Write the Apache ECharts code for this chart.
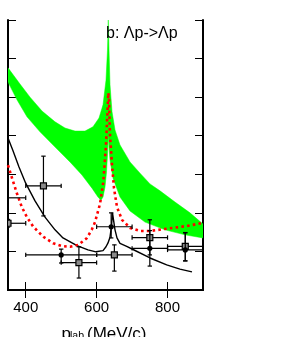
<!DOCTYPE html>
<html><head><meta charset="utf-8">
<script src="https://cdn.jsdelivr.net/npm/echarts@6/dist/echarts.min.js"></script>
<style>html,body{margin:0;padding:0;background:#fff}#c{width:292px;height:337px}</style>
</head><body><div id="c"></div>
<script>
// x: p_lab (MeV/c), y: cross section (arbitrary units, axis 0..70)
const xTickValues = [400, 600, 800];
const yTickValues = [0, 10, 20, 30, 40, 50, 60, 70];

// green band, upper and lower edges [p, y]
const bandUpper = [
  [350,57.6],[383.8,53.4],[412.1,50.0],[445.9,46.4],[482.6,43.6],[510.8,42.0],[539.0,41.2],
  [567.2,41.2],[589.7,42.3],[606.7,44.6],[618.0,48.0],[626.4,54.4],[630.6,62.2],[632.9,70.0],
  [634.9,62.2],[637.7,53.2],[643.4,46.2],[651.8,41.5],[665.9,37.6],[694.1,33.2],[722.3,30.3],
  [750.5,27.5],[778.7,25.7],[821.0,22.8],[863.3,20.0],[900,17.1]
];
const bandLower = [
  [350,53.9],[375.4,49.3],[403.6,44.9],[440.3,41.0],[482.6,37.1],[524.9,33.2],[558.7,29.8],
  [586.9,26.4],[603.8,24.1],[612.3,23.3],[618.0,24.1],[623.6,26.7],[627.9,30.6],[630.6,35.0],
  [632.9,40.2],[634.9,36.8],[637.7,33.7],[646.2,29.0],[665.9,24.1],[694.1,20.5],[736.4,17.6],
  [792.8,15.6],[849.2,14.3],[900,13.5]
];
// black solid curve
const blackCurve = [
  [350,39.4],[363.3,36.3],[381.0,31.9],[399.9,27.7],[426.2,23.1],[454.4,18.9],[482.6,15.6],
  [505.1,13.5],[544.6,11.5],[575.6,10.4],[598.2,9.9],[618.0,10.2],[626.4,11.2],[632.1,12.2],
  [637.7,13.7],[641.9,16.6],[644.7,20.0],[647.6,18.2],[651.8,15.6],[657.4,13.5],[665.9,12.1],
  [684.8,11.3],[702.6,10.5],[750.5,8.3],[797.6,6.5],[834.9,5.4],[868.9,4.7]
];
// red dotted curve
const redCurve = [
  [350,32.4],[360.4,29.3],[374.5,25.2],[388.6,21.6],[402.7,19.0],[421.4,16.4],[449.6,13.8],
  [477.8,12.1],[502.3,11.4],[524.9,11.2],[548.3,11.7],[572.0,13.4],[586.1,15.6],[595.4,17.6],
  [609.5,22.3],[618.8,28.0],[626.4,37.6],[630.6,46.2],[632.9,51.1],[634.9,49.3],[637.7,40.2],
  [643.4,32.4],[649.0,26.4],[657.4,21.5],[671.5,18.2],[694.1,16.1],[722.3,15.3],[750.5,15.3],
  [798.5,15.9],[854.9,16.6],[900,17.4]
];
// data points: [p, y, pLow, pHigh, yLow, yHigh]
const squarePoints = [
  [350,17.3,300,400,16.3,18.3],
  [450,27.0,400,500,19.2,34.7],
  [550,7.1,500,600,3.1,11.2],
  [650,9.1,600,700,4.9,11.7],
  [750,13.6,700,800,9.1,18.2],
  [850,11.3,800,900,7.6,14.9]
];
const dotPoints = [
  [300,23.9,200,400,21.9,25.9],
  [500,9.1,400,600,7.0,10.6],
  [641,16.4,600,700,13.5,20.0],
  [750,10.8,700,800,6.2,15.4],
  [850,10.4,800,900,7.5,14.8]
];

const X_MIN = 350, X_MAX = 900, Y_MIN = 0, Y_MAX = 70;
const FONT = '"Liberation Sans", Arial, sans-serif';

const chart = echarts.init(document.getElementById('c'), null, {renderer: 'canvas'});

function errRender(kind) {
  return function (params, api) {
    const cx = api.value(0), cy = api.value(1);
    const xl = Math.max(api.value(2), X_MIN), xh = Math.min(api.value(3), X_MAX);
    const yl = api.value(4), yh = api.value(5);
    const c = api.coord([cx, cy]);
    const pl = api.coord([xl, cy]), ph = api.coord([xh, cy]);
    const vl = api.coord([cx, yl]), vh = api.coord([cx, yh]);
    const ls = {stroke: '#000', lineWidth: 1.2};
    const cap = 2.2;
    const children = [];
    children.push({type: 'line', shape: {x1: pl[0], y1: pl[1], x2: ph[0], y2: ph[1]}, style: ls});
    if (api.value(2) >= X_MIN) children.push({type: 'line', shape: {x1: pl[0], y1: pl[1] - cap, x2: pl[0], y2: pl[1] + cap}, style: ls});
    if (api.value(3) <= X_MAX) children.push({type: 'line', shape: {x1: ph[0], y1: ph[1] - cap, x2: ph[0], y2: ph[1] + cap}, style: ls});
    if (cx >= X_MIN) {
      children.push({type: 'line', shape: {x1: vl[0], y1: vl[1], x2: vh[0], y2: vh[1]}, style: ls});
      children.push({type: 'line', shape: {x1: vl[0] - cap, y1: vl[1], x2: vl[0] + cap, y2: vl[1]}, style: ls});
      children.push({type: 'line', shape: {x1: vh[0] - cap, y1: vh[1], x2: vh[0] + cap, y2: vh[1]}, style: ls});
      if (kind === 'square') {
        children.push({type: 'rect', shape: {x: c[0] - 3, y: c[1] - 3, width: 6, height: 6}, style: {fill: '#8a8a8a', stroke: '#000', lineWidth: 1.2}});
      } else {
        children.push({type: 'circle', shape: {cx: c[0], cy: c[1], r: 2.6}, style: {fill: '#000'}});
      }
    }
    return {type: 'group', children: children};
  };
}

const axisCommon = {
  axisLine: {show: true, lineStyle: {color: '#000', width: 2}},
  splitLine: {show: false}
};

const option = {
  animation: false,
  backgroundColor: '#fff',
  grid: {left: 8, top: 20, right: 89, bottom: 47, containLabel: false},
  xAxis: [
    Object.assign({}, axisCommon, {
      type: 'value', min: X_MIN, max: X_MAX, position: 'bottom',
      axisTick: {show: true, inside: true, length: 8, customValues: xTickValues, lineStyle: {color: '#000', width: 1}},
      axisLabel: {show: true, customValues: xTickValues, margin: 10, fontSize: 15, color: '#000', fontFamily: FONT}
    }),
    Object.assign({}, axisCommon, {
      type: 'value', min: X_MIN, max: X_MAX, position: 'top',
      axisTick: {show: true, inside: true, length: 8, customValues: xTickValues, lineStyle: {color: '#000', width: 1}},
      axisLabel: {show: false}
    })
  ],
  yAxis: [
    Object.assign({}, axisCommon, {
      type: 'value', min: Y_MIN, max: Y_MAX, interval: 10, position: 'left',
      axisTick: {show: true, inside: true, length: 8, lineStyle: {color: '#000', width: 1}},
      axisLabel: {show: false}
    }),
    Object.assign({}, axisCommon, {
      type: 'value', min: Y_MIN, max: Y_MAX, interval: 10, position: 'right',
      axisTick: {show: true, inside: true, length: 8, lineStyle: {color: '#000', width: 1}},
      axisLabel: {show: false}
    })
  ],
  graphic: [
    {type: 'text', x: 106, y: 34, z: 10, style: {text: 'b: Λp->Λp', font: '16px ' + FONT, fill: '#000', align: 'left', verticalAlign: 'middle'}},
    {type: 'text', x: 61.5, y: 334, style: {text: 'p', font: '17px ' + FONT, fill: '#000', align: 'left', verticalAlign: 'middle'}},
    {type: 'text', x: 70, y: 336, style: {text: 'lab', font: '10.5px ' + FONT, fill: '#000', align: 'left', verticalAlign: 'middle'}},
    {type: 'text', x: 87, y: 334, style: {text: '(MeV/c)', font: '17px ' + FONT, fill: '#000', align: 'left', verticalAlign: 'middle'}}
  ],
  series: [
    {
      type: 'custom', clip: true, silent: true, z: 1,
      data: [[500, 30]],
      renderItem: function (params, api) {
        const pts = bandUpper.map(d => api.coord(d)).concat(bandLower.slice().reverse().map(d => api.coord(d)));
        return {type: 'polygon', shape: {points: pts}, style: {fill: '#00ff00', stroke: '#00ff00', lineWidth: 0.5}};
      }
    },
    {
      type: 'line', data: blackCurve, showSymbol: false, clip: true, z: 3,
      lineStyle: {color: '#000', width: 1.4}, smooth: false
    },
    {
      type: 'line', data: redCurve, showSymbol: false, clip: true, z: 4,
      lineStyle: {color: '#ff0000', width: 2.6, type: [2.6, 3.2], cap: 'butt'}
    },
    {type: 'custom', clip: true, z: 5, data: squarePoints, encode: {x: 0, y: 1}, renderItem: errRender('square')},
    {type: 'custom', clip: true, z: 5, data: dotPoints, encode: {x: 0, y: 1}, renderItem: errRender('dot')}
  ]
};
chart.setOption(option);
</script>
</body></html>
